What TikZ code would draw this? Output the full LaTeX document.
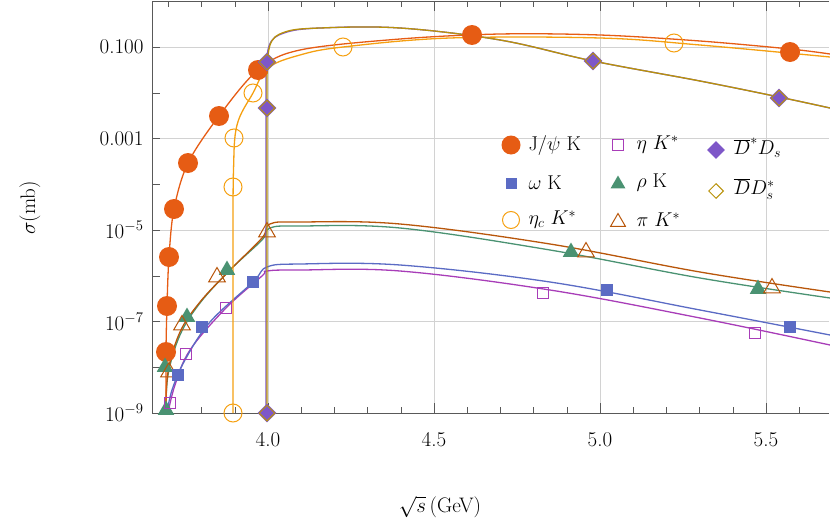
\RequirePackage{fix-cm}
\documentclass[tikz,border=0pt]{standalone}
\usepackage{fontspec}
\usetikzlibrary{shapes.geometric}
\definecolor{cR}{HTML}{E65C14}
\definecolor{cO}{HTML}{F5A011}
\definecolor{cP}{HTML}{7E57C8}
\definecolor{cY}{HTML}{B8920A}
\definecolor{cB}{HTML}{5B6BC4}
\definecolor{cM}{HTML}{A83DB8}
\definecolor{cG}{HTML}{4A9272}
\definecolor{cBr}{HTML}{B8560A}
\tikzset{
 crv/.style={line width=1.3pt},
 jpsi/.style={circle,fill=cR,inner sep=0,minimum size=20pt},
 omg/.style={rectangle,fill=cB,inner sep=0,minimum size=12pt},
 etac/.style={circle,draw=cO,line width=1pt,inner sep=0,minimum size=18pt},
 etak/.style={rectangle,draw=cM,line width=1pt,inner sep=0,minimum size=11pt},
 rho/.style={regular polygon,regular polygon sides=3,fill=cG,inner sep=0,minimum size=19pt},
 pik/.style={regular polygon,regular polygon sides=3,draw=cBr,line width=1pt,inner sep=0,minimum size=19pt},
 dstar/.style={diamond,fill=cP,inner sep=0,minimum size=19pt},
 dd/.style={diamond,draw=cY,line width=1pt,inner sep=0,minimum size=16pt},
 grid/.style={gray!35,line width=0.6pt},
 tl/.style={font=\fontsize{21}{25}\selectfont},
 lg/.style={font=\fontsize{20}{24}\selectfont,anchor=west}
}
\begin{document}
\begin{tikzpicture}[x=1pt,y=-1pt]
\useasboundingbox (0,0) rectangle (830,530);
% grid
\foreach \xx in {268,434,600,766} \draw[grid] (\xx,1) -- (\xx,413);
\foreach \yy in {47,138.5,230,321.5} \draw[grid] (152,\yy) -- (829,\yy);
% frame and ticks
\draw[gray!70!black,line width=1pt] (829,1) -- (152,1) -- (152,413) -- (829,413);
\foreach \i in {0,...,20} {\pgfmathsetmacro{\xx}{168.4+33.2*\i}
 \draw[gray!70!black] (\xx,413) -- (\xx,407) (\xx,1) -- (\xx,7);}
\foreach \xx in {268,434,600,766} \draw[gray!70!black] (\xx,413) -- (\xx,403) (\xx,1) -- (\xx,11);
\foreach \i in {0,...,8} {\pgfmathsetmacro{\yy}{47+45.75*\i}
 \draw[gray!70!black] (152,\yy) -- (160,\yy);}
% tick labels
\node[tl,anchor=east] (y1) at (147,47) {0.100};
\node[tl,anchor=east] (y3) at (147,138.5) {0.001};
\node[tl,anchor=east] (y5) at (147,230) {$10^{-5}$};
\node[tl,anchor=east] (y7) at (147,321.5) {$10^{-7}$};
\node[tl,anchor=east] (y9) at (147,413) {$10^{-9}$};
\foreach \xx/\t in {268/4.0,434/4.5,600/5.0,766/5.5} \node[tl] at (\xx,440) {\t};
\node[tl,rotate=90] (ylab) at (30,208) {$\sigma$(mb)};
\node[tl] (xlab) at (440,507) {$\sqrt{s}\,$(GeV)};
% curves
\draw[crv,cM] plot[smooth,tension=0.6] coordinates {(168,413) (175,385) (190,350) (226,308) (262,276) (267,271) (300,270) (400,271) (550,290) (700,318) (830,345)};
\draw[crv,cB] plot[smooth,tension=0.6] coordinates {(167,413) (172,390) (185,360) (210,322) (253,282) (267,267) (300,264) (400,265) (550,282) (700,310) (830,335)};
\draw[crv,cG] plot[smooth,tension=0.6] coordinates {(166,413) (168,375) (180,335) (200,303) (230,270) (262,240) (270,228) (300,226) (400,228) (550,250) (700,278) (830,298)};
\draw[crv,cBr] plot[smooth,tension=0.6] coordinates {(166,413) (168,372) (180,332) (200,302) (230,270) (262,238) (270,224) (300,222) (400,224) (550,244) (700,272) (830,292)};
\draw[crv,cR] plot[smooth,tension=0.55] coordinates {(166,413) (166,352) (167,306) (169,257) (174,209) (188,163) (219,116) (258,70) (300,50) (400,39) (500,34) (600,35) (700,41) (790,49) (830,54)};
\draw[crv,cO] (233,413) -- (233,240) plot[smooth,tension=0.6] coordinates {(233,240) (233.5,170) (237,125) (253,93) (268,68) (300,55) (343,47) (450,38) (600,38) (700,45) (830,57)};
\draw[crv,cP] (266,413) -- (266,80) plot[smooth,tension=0.6] coordinates {(266,80) (269,46) (284,33) (320,28) (400,28) (500,40) (593,61) (700,81) (779,97) (830,108)};
\draw[crv,cY] (267,413) -- (267,80) plot[smooth,tension=0.6] coordinates {(267,80) (270,45) (285,32) (320,28) (400,28) (500,40) (593,61) (700,81) (779,97) (830,108)};
% markers
\foreach \p in {(166,352),(167,306),(169,257),(174,209),(188,163),(219,116),(258,70),(472,35),(790,52)} \node[jpsi] at \p {};
\foreach \p in {(233,413),(233,187),(234,138),(253,93),(343,47),(674,43)} \node[etac] at \p {};
\foreach \p in {(267,413),(267,108),(267,62),(593,61),(779,98)} \node[dstar] at \p {};
\foreach \p in {(267,413),(267,108),(267,62),(593,61),(779,98)} \node[dd] at \p {};
\foreach \p in {(166,410),(165,367),(187,317),(227,270),(571,252),(758,289)} \node[rho] at \p {};
\foreach \p in {(169,372),(182,325),(217,277),(267,232),(586,252),(772,288)} \node[pik] at \p {};
\foreach \p in {(178,375),(202,327),(253,282),(607,290),(790,327)} \node[omg] at \p {};
\foreach \p in {(170,403),(186,354),(226,308),(543,293),(755,333)} \node[etak] at \p {};
% legend
\node[jpsi,minimum size=19pt] (l1) at (511,145) {};
\node[lg] (t1) at (525,145) {J/$\psi$ K};
\node[omg,minimum size=11pt] (l2) at (511,183) {};
\node[lg] (t2) at (525,183) {$\omega$ K};
\node[etac,minimum size=17pt] (l3) at (511,220) {};
\node[lg] (t3) at (525,220) {$\eta_c\ K^*$};
\node[etak] (l4) at (618,145) {};
\node[lg] (t4) at (633,145) {$\eta\ K^*$};
\node[rho,minimum size=17pt] (l5) at (618,184) {};
\node[lg] (t5) at (633,183) {$\rho$ K};
\node[pik,minimum size=17pt] (l6) at (618,222) {};
\node[lg] (t6) at (633,220) {$\pi\ K^*$};
\node[dstar,minimum size=18pt] (l7) at (716,150) {};
\node[lg] (t7) at (730,148) {$\overline{D}^*D_s$};
\node[dd,minimum size=15pt] (l8) at (716,191) {};
\node[lg] (t8) at (730,189) {$\overline{D}D_s^*$};
\end{tikzpicture}
\end{document}
